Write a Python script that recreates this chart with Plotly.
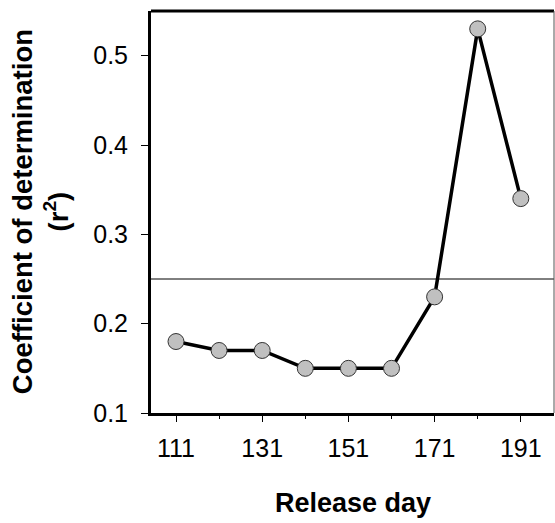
import plotly.graph_objects as go

release_day = [111, 121, 131, 141, 151, 161, 171, 181, 191]
r_squared = [0.18, 0.17, 0.17, 0.15, 0.15, 0.15, 0.23, 0.53, 0.34]
threshold = 0.25
x_ticks = [111, 131, 151, 171, 191]
y_ticks = [0.1, 0.2, 0.3, 0.4, 0.5]

FONT = "Liberation Sans, Arial, sans-serif"

fig = go.Figure()
fig.add_trace(go.Scatter(
    x=release_day, y=r_squared, mode="lines+markers",
    line=dict(color="black", width=3.5),
    marker=dict(size=16, color="#c0c0c0", line=dict(color="#333333", width=1)),
    showlegend=False,
))

fig.add_shape(type="line", xref="paper", x0=0, x1=1, yref="y", y0=threshold, y1=threshold,
              line=dict(color="black", width=1), layer="below")
# top and right frame
fig.add_shape(type="line", xref="paper", yref="paper", x0=0, x1=1, y0=1, y1=1,
              line=dict(color="black", width=3))
fig.add_shape(type="line", xref="paper", yref="paper", x0=1, x1=1, y0=0, y1=1,
              line=dict(color="#555555", width=1))

fig.update_xaxes(
    range=[105.2, 198.7], tickvals=x_ticks, ticktext=[str(v) for v in x_ticks],
    showline=True, linecolor="black", linewidth=3, ticks="outside", ticklen=6,
    tickwidth=1, tickcolor="black", showgrid=False, zeroline=False, automargin=False,
    ticklabelstandoff=5,
    tickfont=dict(family=FONT, size=25, color="black"),
    minor=dict(tickvals=[121, 141, 161, 181], ticks="outside", ticklen=3, tickwidth=1, tickcolor="black", showgrid=False),
)
fig.update_yaxes(
    range=[0.1, 0.55], tickvals=y_ticks, ticktext=[str(v) for v in y_ticks],
    showline=True, linecolor="black", linewidth=3, ticks="outside", ticklen=7,
    tickwidth=1, tickcolor="black", showgrid=False, zeroline=False, automargin=False,
    ticklabelstandoff=8,
    tickfont=dict(family=FONT, size=25, color="black"),
)

fig.add_annotation(text="<b>Release day</b>", xref="paper", yref="paper",
                   x=0.5, y=-0.225, xanchor="center", yanchor="middle", showarrow=False,
                   font=dict(family=FONT, size=27, color="black"))
fig.add_annotation(text="<b>Coefficient of determination<br>(r<sup>2</sup>)</b>", xref="paper", yref="paper",
                   x=-0.275, y=0.5, xanchor="center", yanchor="middle", showarrow=False,
                   textangle=-90, font=dict(family=FONT, size=27.5, color="black"))

fig.update_layout(
    width=555, height=523,
    margin=dict(l=151, r=1, t=11, b=110, autoexpand=False),
    plot_bgcolor="white", paper_bgcolor="white",
)

fig.write_html("out.html", config={"displayModeBar": False},
               post_script="document.body.style.margin='0';document.body.style.overflow='hidden';")
